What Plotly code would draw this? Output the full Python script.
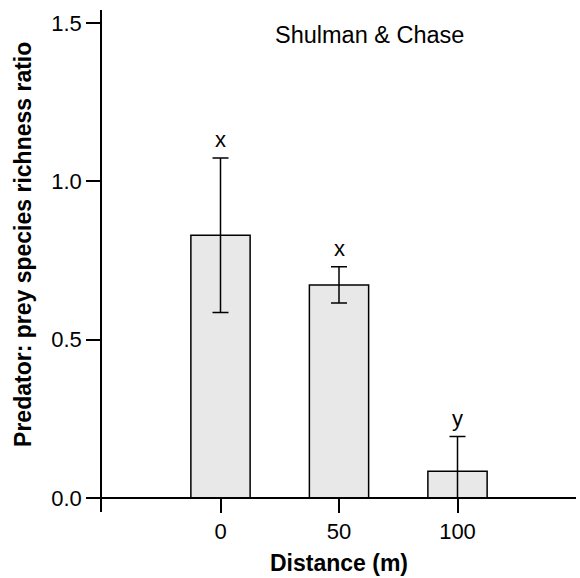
import plotly.graph_objects as go

distance = [0, 50, 100]
ratio = [0.830, 0.673, 0.085]
err_plus = [0.244, 0.057, 0.109]
err_minus = [0.244, 0.057, 0.085]
letters = ["x", "x", "y"]
y_ticks = [0.0, 0.5, 1.0, 1.5]
y_ticklabels = ["0.0", "0.5", "1.0", "1.5"]
x_ticks = [0, 50, 100]
x_ticklabels = ["0", "50", "100"]

FONT = "Liberation Sans, Arial, sans-serif"
YMIN, YMAX = -0.044, 1.541
fig = go.Figure()
fig.add_trace(go.Bar(
    x=distance, y=ratio, width=25,
    marker=dict(color="#e8e8e8", line=dict(color="black", width=1.5)),
    error_y=dict(type="data", symmetric=False, array=err_plus, arrayminus=err_minus,
                 color="black", thickness=1.5, width=8),
    showlegend=False,
))
for xv, yv, ep, lab in zip(distance, ratio, err_plus, letters):
    fig.add_annotation(x=xv, y=yv + ep, text=lab, showarrow=False,
                       yanchor="bottom", yshift=4,
                       font=dict(size=22, color="black", family=FONT))
fig.add_annotation(x=0.565, y=0.950, xref="paper", yref="paper", text="Shulman & Chase",
                   showarrow=False, xanchor="center", yanchor="middle",
                   font=dict(size=23.5, color="black", family=FONT))
# axis titles
fig.add_annotation(x=0, y=0.532, xref="paper", yref="paper",
                   text="<b>Predator: prey species richness ratio</b>",
                   showarrow=False, textangle=-90, xanchor="center", yanchor="middle",
                   xshift=-79, font=dict(size=23, color="black", family=FONT))
fig.add_annotation(x=0.5, y=0, xref="paper", yref="paper",
                   text="<b>Distance (m)</b>",
                   showarrow=False, xanchor="center", yanchor="middle",
                   yshift=-51, font=dict(size=23, color="black", family=FONT))

fig.update_layout(
    width=580, height=578,
    margin=dict(l=102, r=4, t=10, b=66),
    paper_bgcolor="white", plot_bgcolor="white",
    font=dict(family=FONT, size=22, color="black"),
    xaxis=dict(range=[-50, 150], tickvals=x_ticks, ticktext=x_ticklabels,
               showline=True, linecolor="black", linewidth=1.5,
               ticks="outside", ticklen=14, tickwidth=1.5, tickcolor="black",
               showgrid=False, zeroline=False,
               anchor="free", position=(0 - YMIN) / (YMAX - YMIN),
               tickfont=dict(size=22)),
    yaxis=dict(range=[YMIN, YMAX], tickvals=y_ticks, ticktext=y_ticklabels,
               showline=True, linecolor="black", linewidth=1.5,
               ticks="outside", ticklen=14, tickwidth=1.5, tickcolor="black",
               showgrid=False, zeroline=False,
               tickfont=dict(size=22)),
)
fig.write_html("out.html", config={"displayModeBar": False},
               post_script="document.body.style.margin='0';")
